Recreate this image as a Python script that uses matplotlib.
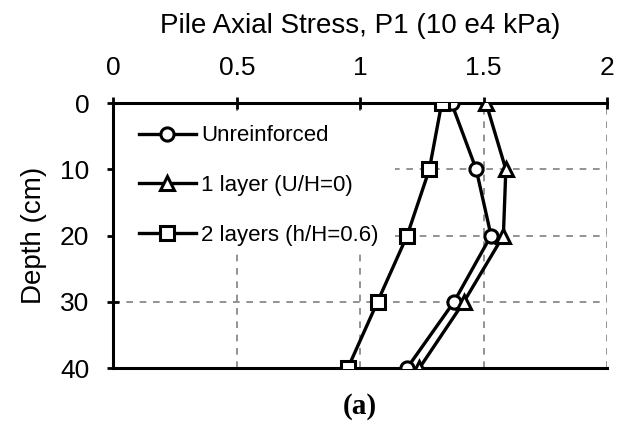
import matplotlib
matplotlib.use("Agg")
import matplotlib.pyplot as plt
from matplotlib.patches import Rectangle

plt.rcParams['font.family'] = ['Liberation Sans', 'DejaVu Sans']

depth = [0, 10, 20, 30, 40]
unreinforced = [1.37, 1.47, 1.53, 1.38, 1.19]
one_layer = [1.51, 1.59, 1.58, 1.42, 1.24]
two_layers = [1.33, 1.28, 1.19, 1.07, 0.95]
labels = ["Unreinforced", "1 layer (U/H=0)", "2 layers (h/H=0.6)"]
x_ticks = [0, 0.5, 1, 1.5, 2]
x_tick_labels = ["0", "0.5", "1", "1.5", "2"]
y_ticks = [0, 10, 20, 30, 40]

fig = plt.figure(figsize=(6.41, 4.23), dpi=100)
ax = fig.add_axes([0.177, 0.130, 0.770, 0.626])
ax.set_axisbelow(True)

style = dict(color='black', lw=2.4, markerfacecolor='white',
             markeredgecolor='black', markeredgewidth=2.2, zorder=5)
ax.plot(unreinforced, depth, marker='o', markersize=9.5, label=labels[0], **style)
ax.plot(one_layer, depth, marker='^', markersize=10.5, label=labels[1], **style)
ax.plot(two_layers, depth, marker='s', markersize=10, label=labels[2], **style)

ax.set_xlim(0, 2)
ax.set_ylim(40, 0)
ax.set_xticks(x_ticks)
ax.set_xticklabels(x_tick_labels)
ax.set_yticks(y_ticks)
ax.xaxis.tick_top()
ax.xaxis.set_label_position('top')
ax.tick_params(axis='both', direction='inout', length=9, width=2,
               labelsize=19, color='black')
ax.tick_params(axis='x', pad=12)
ax.tick_params(axis='y', pad=13)

ax.grid(True, color='#808080', linestyle=(0, (4, 4)), lw=1.2)

for side in ('top', 'left', 'bottom'):
    ax.spines[side].set_linewidth(2.2)
ax.spines['right'].set_visible(False)

ax.set_xlabel("Pile Axial Stress, P1 (10 e4 kPa)", fontsize=20, labelpad=17)
ax.set_ylabel("Depth (cm)", fontsize=20, labelpad=9)

# white backing behind the legend so the grid stops at its edge
ax.add_patch(Rectangle((0.0, 0.43), 0.57, 0.54, transform=ax.transAxes,
                       facecolor='white', edgecolor='none', zorder=1))

leg = ax.legend(loc='upper left', bbox_to_anchor=(0.034, 0.95), fontsize=16,
                frameon=False, handlelength=2.55, handletextpad=0.25,
                labelspacing=1.3, borderpad=0.4, borderaxespad=0.0)
leg.set_zorder(6)

fig.text(0.561, 0.04, "(a)", fontsize=21, fontweight='bold',
         family='Liberation Serif', ha='center', va='center')

fig.savefig("out.png", dpi=100)
